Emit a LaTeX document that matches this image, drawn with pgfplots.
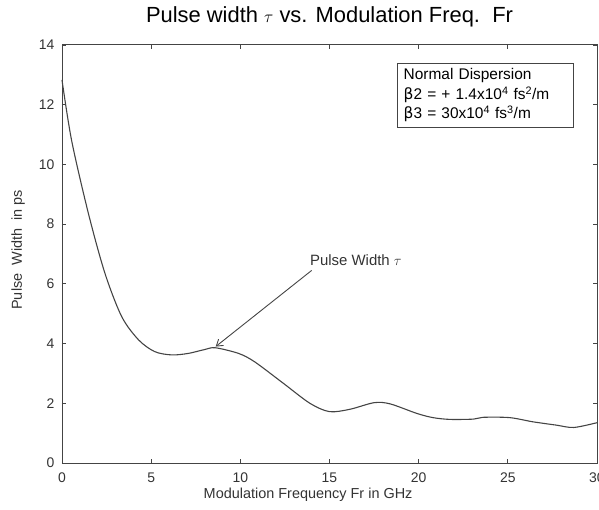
\documentclass[border=0pt]{standalone}
\usepackage{pgfplots}
\pgfplotsset{compat=1.18}
\usetikzlibrary{arrows.meta}
\usepackage{fontspec}
\setmainfont{Liberation Sans}
\newfontfamily\dejavu{DejaVu Sans}
\definecolor{ln}{HTML}{444444}
\definecolor{tx}{HTML}{333333}
\begin{document}
\begin{tikzpicture}[x=1bp,y=1bp]
\useasboundingbox (-62bp,-47bp) rectangle (537bp,463bp);
\begin{axis}[
  at={(0,0)}, anchor=south west,
  scale only axis, width=535bp, height=418bp,
  xmin=0, xmax=30, ymin=0, ymax=14,
  xtick={0,5,...,30}, ytick={0,2,...,14},
  tick align=inside, tick pos=both,
  major tick length=4bp,
  axis line style={ln, line width=1pt},
  every tick/.style={ln, line width=0.8pt},
  tick label style={font=\fontsize{14}{16}\selectfont, text=tx},
  x tick label style={yshift=-6bp},
  y tick label style={xshift=-4bp},
  /pgf/number format/assume math mode=true,
  xlabel={Modulation Frequency Fr in GHz},
  ylabel={Pulse\ \ Width\ \ in ps},
  label style={font=\fontsize{14.5}{16}\selectfont, text=tx},
  xlabel style={at={(axis description cs:0.46,-0.0766)}, anchor=center},
  ylabel style={at={(axis description cs:-0.082,0.51)}, anchor=center},
  title={Pulse width {\fontsize{17}{19}\selectfont$\tau$} vs. Modulation Freq.\ \ Fr},
  title style={font=\fontsize{22}{24}\selectfont, text=black, at={(axis description cs:0.5,1.0526)}, anchor=center},
  clip=false,
]
\addplot[ln, line width=1.1pt, smooth] coordinates {
(0,12.83) (0.54,10.8) (1.48,8.36) (2.41,6.35) (3.35,4.9) (4.3,4.12)
(5.2,3.73) (6.15,3.62) (7.08,3.67) (8.0,3.8) (8.6,3.86) (9.9,3.67)
(10.8,3.39) (12.41,2.67) (13.9,2.0) (15.0,1.72) (16.15,1.8) (17.5,2.02)
(18.4,1.98) (19.9,1.66) (20.8,1.52) (21.76,1.46) (23.07,1.47) (23.6,1.53)
(25.1,1.52) (26.4,1.38) (27.7,1.27) (28.7,1.19) (30,1.35)
};
\draw[ln, line width=0.9pt, -{Straight Barb[length=6bp,width=8bp]}] (axis cs:14.0,6.45) -- (axis cs:8.62,3.9);
\node[anchor=south west, inner sep=0pt, text=tx, font=\fontsize{15}{17}\selectfont] at (axis cs:13.9,6.6) {Pulse Width {\fontsize{15}{17}\selectfont$\tau$}};
\node[draw=ln, line width=0.9pt, anchor=north west, align=left, text=black, inner xsep=6bp, inner ysep=3bp, font=\fontsize{15.5}{19.5}\selectfont, text width=164bp, minimum height=64bp] at (axis cs:18.8,13.4)
{Normal Dispersion\\ {\dejavu β}2 = + 1.4x10\textsuperscript{4} fs\textsuperscript{2}/m\\ {\dejavu β}3 = 30x10\textsuperscript{4} fs\textsuperscript{3}/m};
\end{axis}
\end{tikzpicture}
\end{document}
